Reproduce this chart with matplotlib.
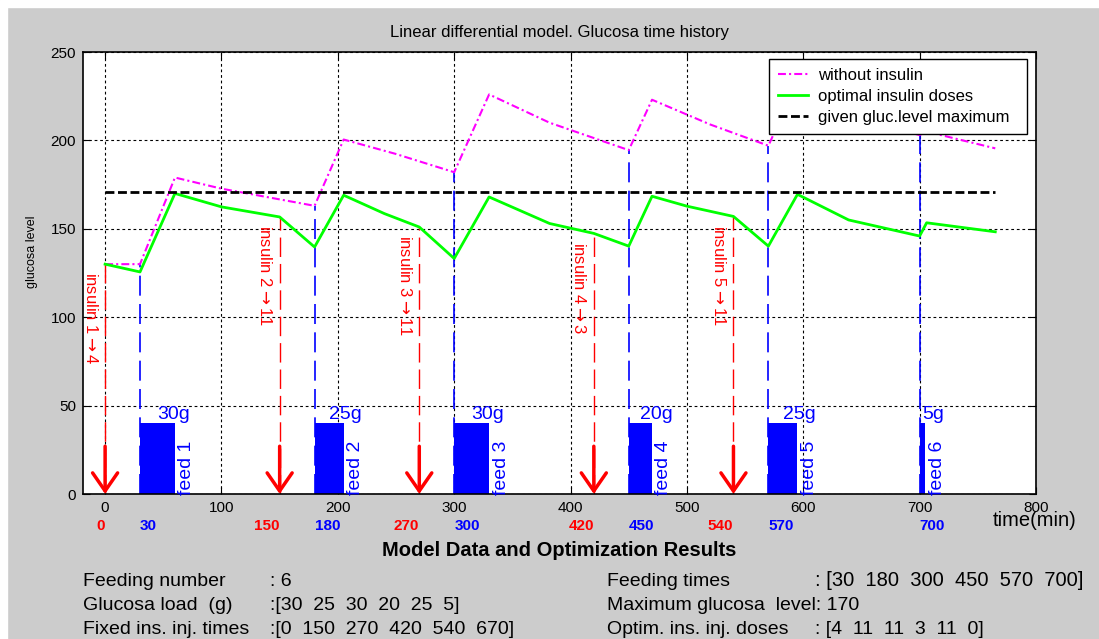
import numpy as np
import matplotlib
matplotlib.use('Agg')
import matplotlib.pyplot as plt
import matplotlib.transforms as mtransforms
from matplotlib.patches import Rectangle

plt.rcParams['font.family'] = ['Liberation Sans', 'DejaVu Sans']

# glucose history without insulin
t_mag = [0, 30, 60, 100, 180, 205, 249, 300, 330, 382, 450, 470, 520, 570, 595, 640, 686, 700, 706, 765]
g_mag = [130, 130, 179, 172.7, 163, 200.5, 192.5, 182, 226, 210, 194.5, 223, 209, 197, 233, 219, 205.5, 203, 205, 195.5]

# glucose history with optimal insulin doses
t_opt = [0, 30, 60, 100, 150, 180, 205, 240, 270, 300, 330, 382, 420, 450, 470, 500, 540, 570, 595, 639, 700, 706, 765]
g_opt = [130, 125.6, 170, 162.4, 156.7, 139.7, 169, 158.6, 151, 133.2, 168, 153, 147.4, 140.2, 168.4,
         162.8, 157, 140.2, 169.5, 155, 145.9, 153.4, 148.3]

t_max = [0, 765]
g_max_line = 171
max_level = 170

feed_times = [30, 180, 300, 450, 570, 700]
feed_loads = [30, 25, 30, 20, 25, 5]
bar_height = 40

ins_times = [0, 150, 270, 420, 540, 670]
ins_doses = [4, 11, 11, 3, 11, 0]

W, H = 1099, 639
fig = plt.figure(figsize=(W / 100, H / 100), dpi=100, facecolor='#cccccc')
fig.patches.append(Rectangle((0, 1 - 7 / H), 1, 7 / H, transform=fig.transFigure, color='white', zorder=0))
fig.patches.append(Rectangle((0, 0), 7 / W, 1, transform=fig.transFigure, color='white', zorder=0))

ax = fig.add_axes([83 / W, 145 / H, 953 / W, 442 / H])
ax.set_xlim(-19, 800)
ax.set_ylim(0, 250)
ax.set_xticks(range(0, 801, 100))
ax.set_yticks(range(0, 251, 50))
ax.set_axisbelow(True)
ax.grid(True, color='black', linestyle=(0, (2.5, 2.5)), lw=0.8)
ax.tick_params(direction='in', length=5, top=True, right=True, labelsize=11, pad=5)
for s in ax.spines.values():
    s.set_linewidth(1.2)

# feed bars and labels
for k, (t, w) in enumerate(zip(feed_times, feed_loads), start=1):
    ax.bar(t, bar_height, width=w, align='edge', color='#0000ff', zorder=2)
    ax.text(t + w / 2, bar_height, f'{w}g', ha='left', va='bottom', fontsize=14, color='#0000ff', zorder=4)
    ax.annotate(f'feed {k}', xy=(t + w, 0), xytext=(2.5, -1), textcoords='offset points',
                rotation=90, ha='left', va='bottom', fontsize=14, color='#0000ff', zorder=4)
    top = np.interp(t, t_mag, g_mag)
    ax.plot([t, t], [0, top], color='#0000ff', lw=1.2, dashes=(12, 5), zorder=1)

# insulin injections
for k, (t, d) in enumerate(zip(ins_times, ins_doses), start=1):
    if d == 0:
        continue
    top = np.interp(t, t_opt, g_opt)
    ax.plot([t, t], [0, top], color='red', lw=1.0, dashes=(14, 5), zorder=1)
    ax.annotate('', xy=(t, 0), xytext=(t, 27),
                arrowprops=dict(arrowstyle='->,head_length=0.65,head_width=0.45', color='red',
                                lw=2.5, shrinkA=0, shrinkB=0, mutation_scale=20), zorder=5)
    ax.annotate(f'insulin {k}' + r'$\rightarrow$' + f'{d}', xy=(t, top), xytext=(-10.5, -6),
                textcoords='offset points', rotation=-90, ha='center', va='top', fontsize=12,
                color='red', zorder=4)

l1, = ax.plot(t_mag, g_mag, color='#ff00ff', lw=1.5, dashes=(3.8, 1.5, 1, 1.5), zorder=3,
              label='without insulin')
l2, = ax.plot(t_opt, g_opt, color='#00ff00', lw=2, zorder=3, label='optimal insulin doses')
l3, = ax.plot(t_max, [g_max_line, g_max_line], color='black', lw=2, dashes=(3.2, 1.3), zorder=3,
              label='given gluc.level maximum')

leg = ax.legend(handles=[l1, l2, l3], loc='upper left',
                bbox_to_anchor=(0.7198, 0.8145, 0.2707, 0.1695), mode='expand',
                borderaxespad=0, fontsize=12, fancybox=False, framealpha=1, edgecolor='black',
                handlelength=1.8, handletextpad=0.6, labelspacing=0.35, borderpad=0.55)
leg.get_frame().set_linewidth(1.0)
leg.set_zorder(10)

# coloured time labels under the axis
trans = mtransforms.blended_transform_factory(ax.transData, ax.transAxes)
for t, d in zip(ins_times, ins_doses):
    if d > 0:
        ax.text(t, -0.072, str(t), transform=trans, ha='right', va='center', color='red',
                weight='bold', fontsize=11, clip_on=False)
for t in feed_times:
    ax.text(t, -0.072, str(t), transform=trans, ha='left', va='center', color='#0000ff',
            weight='bold', fontsize=11, clip_on=False)

fig.text(993 / W, 1 - 521 / H, 'time(min)', ha='left', va='center', fontsize=14.5)
fig.text(559 / W, 1 - 32 / H, 'Linear differential model. Glucosa time history', ha='center',
         va='center', fontsize=12)
fig.text(32 / W, 1 - 252 / H, 'glucosa level', rotation=90, ha='center', va='center', fontsize=9)

# results block
fig.text(559 / W, 1 - 550 / H, 'Model Data and Optimization Results', ha='center', va='center',
         fontsize=14.5, weight='bold')


def fmt(vals):
    return '[' + '  '.join(str(v) for v in vals) + ']'


rows_y = [581, 605, 629]
left_rows = [('Feeding number', ': %d' % len(feed_times)),
             ('Glucosa load  (g)', ':' + fmt(feed_loads)),
             ('Fixed ins. inj. times', ':' + fmt(ins_times))]
for (lab, val), y in zip(left_rows, rows_y):
    fig.text(83 / W, 1 - y / H, lab, ha='left', va='center', fontsize=14)
    fig.text(270 / W, 1 - y / H, val, ha='left', va='center', fontsize=14)

fig.text(607 / W, 1 - rows_y[0] / H, 'Feeding times', ha='left', va='center', fontsize=14)
fig.text(815 / W, 1 - rows_y[0] / H, ': ' + fmt(feed_times), ha='left', va='center', fontsize=14.5)
fig.text(607 / W, 1 - rows_y[1] / H, 'Maximum glucosa  level: %d' % max_level, ha='left',
         va='center', fontsize=14)
fig.text(607 / W, 1 - rows_y[2] / H, 'Optim. ins. inj. doses', ha='left', va='center', fontsize=14)
fig.text(815 / W, 1 - rows_y[2] / H, ': ' + fmt(ins_doses), ha='left', va='center', fontsize=14)

fig.savefig('out.png', dpi=100, facecolor=fig.get_facecolor())
